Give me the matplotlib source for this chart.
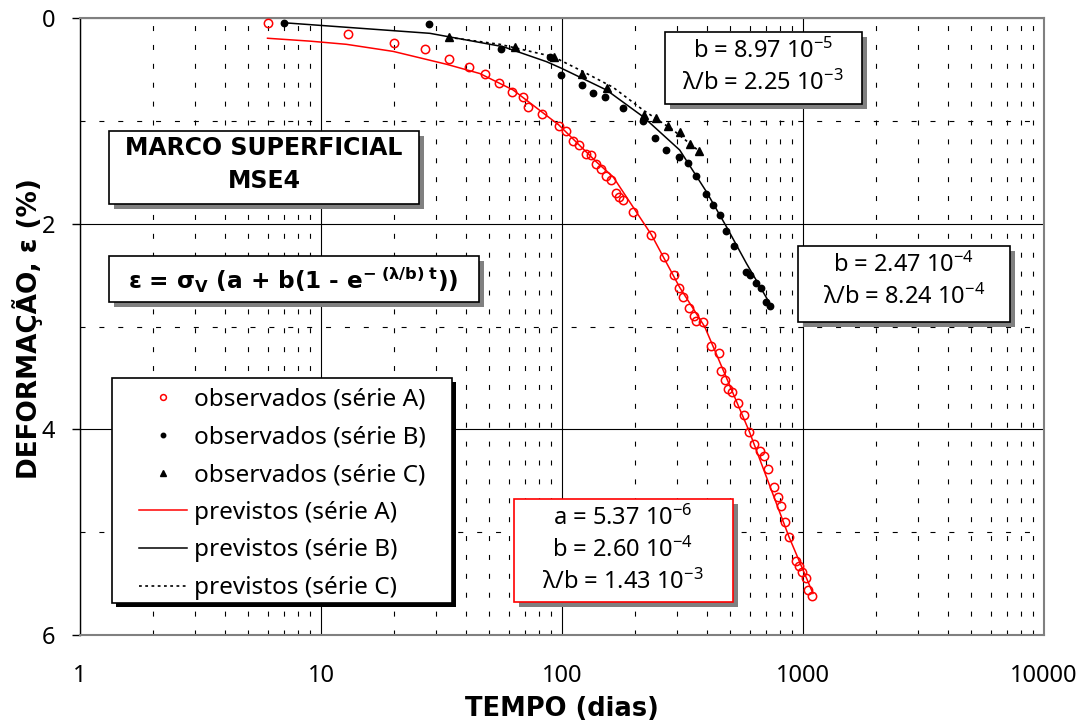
import matplotlib
matplotlib.use('Agg')
import matplotlib.pyplot as plt
from matplotlib.patches import Rectangle
from matplotlib.ticker import LogLocator, FixedLocator, NullFormatter

plt.rcParams['font.family'] = ['Noto Sans', 'DejaVu Sans']
plt.rcParams['mathtext.default'] = 'regular'
plt.rcParams['lines.scale_dashes'] = False

BOLD_FAMILY = 'DejaVu Sans'

# ---------------- data ----------------
obs_a_t = [6.0, 13, 20, 27, 34, 41, 48, 55, 62, 69, 72.6, 82.7, 97, 104, 110.6, 117.8,
           125.3, 131.7, 139, 145.8, 152.9, 159.8, 167.7, 173.2, 179.9, 196.2, 234.2,
           265.2, 292.8, 307.1, 319.1, 335.7, 353.8, 361.3, 383.7, 414.2, 448.3, 457,
           476.6, 490.5, 509.6, 537.6, 571.4, 599.4, 628.6, 661.3, 688.9, 718.6, 758,
           787.5, 813.5, 839.6, 874.8, 932.6, 959.8, 994.3, 1033, 1053, 1090]
obs_a_e = [0.05, 0.16, 0.24, 0.30, 0.40, 0.48, 0.545, 0.635, 0.723, 0.771, 0.864, 0.934,
           1.051, 1.097, 1.194, 1.231, 1.320, 1.336, 1.420, 1.464, 1.532, 1.578, 1.705,
           1.741, 1.774, 1.890, 2.108, 2.320, 2.495, 2.622, 2.714, 2.818, 2.894, 2.947,
           2.954, 3.188, 3.262, 3.437, 3.521, 3.606, 3.638, 3.742, 3.865, 4.024, 4.144,
           4.209, 4.264, 4.390, 4.562, 4.657, 4.747, 4.903, 5.046, 5.285, 5.328, 5.392,
           5.450, 5.564, 5.616]

obs_b_t = [7.0, 28.0, 56.0, 89.0, 99.3, 121.2, 134.6, 150.5, 179.3, 215.8, 242.7, 271.3,
           306.0, 333.4, 361.3, 394.9, 423.3, 454.5, 481.3, 517.4, 578.5, 605.1, 640.8,
           672.1, 705.0, 732.4]
obs_b_e = [0.052, 0.061, 0.304, 0.379, 0.557, 0.652, 0.730, 0.771, 0.873, 0.999, 1.164,
           1.284, 1.349, 1.408, 1.537, 1.715, 1.819, 1.916, 2.069, 2.215, 2.468, 2.500,
           2.575, 2.629, 2.760, 2.802]

obs_c_t = [33.9, 64.1, 92.5, 120.5, 154.4, 218.5, 244.9, 276.6, 310.1, 341.2, 370.5]
obs_c_e = [0.188, 0.285, 0.382, 0.545, 0.684, 0.944, 0.976, 1.051, 1.109, 1.229, 1.291]

prev_a_t = [6.0, 9.0, 12.75, 19.95, 33.2, 45.6, 62.7, 97.0, 139.0, 162.9, 235.0, 307.9,
            391.1, 599.4, 874.8, 1100]
prev_a_e = [0.197, 0.225, 0.256, 0.325, 0.450, 0.540, 0.700, 1.040, 1.400, 1.544, 2.108,
            2.620, 3.003, 4.024, 5.046, 5.596]

prev_b_t = [7.0, 28.3, 57.0, 86.3, 99.5, 152.9, 217.0, 307.9, 397.5, 481.3, 582.4, 727.6]
prev_b_e = [0.046, 0.149, 0.279, 0.425, 0.489, 0.700, 0.960, 1.284, 1.690, 2.030, 2.386,
            2.775]

prev_c_t = [33.9, 55.2, 91.9, 122.4, 162.9, 217.0, 288.9, 372.9]
prev_c_e = [0.188, 0.256, 0.376, 0.522, 0.674, 0.895, 1.089, 1.300]

x_ticks = [1, 10, 100, 1000, 10000]
x_tick_labels = ['1', '10', '100', '1000', '10000']
y_ticks = [0, 2, 4, 6]
y_tick_labels = ['0', '2', '4', '6']

legend_labels = ['observados (série A)', 'observados (série B)', 'observados (série C)',
                 'previstos (série A)', 'previstos (série B)', 'previstos (série C)']

# ---------------- figure ----------------
W, H = 1092, 727
fig = plt.figure(figsize=(W / 100, H / 100), dpi=100)
ax = fig.add_axes([80 / W, 1 - 635 / H, 964 / W, 617 / H])

ax.set_xscale('log')
ax.set_xlim(1, 10000)
ax.set_ylim(6, 0)

ax.set_xticks(x_ticks, x_tick_labels)
ax.xaxis.set_minor_locator(LogLocator(base=10, subs=range(2, 10), numticks=50))
ax.xaxis.set_minor_formatter(NullFormatter())
ax.set_yticks(y_ticks, y_tick_labels)
ax.yaxis.set_minor_locator(FixedLocator([1, 3, 5]))

ax.tick_params(axis='x', which='major', length=0, pad=21, labelsize=17)
ax.tick_params(axis='y', which='major', length=5.8, width=1, direction='out',
               pad=12, labelsize=17)
ax.tick_params(which='minor', length=0)

ax.set_axisbelow(True)
ax.grid(which='major', color='black', lw=0.8, ls='-')
ax.grid(which='minor', color='black', lw=0.8, ls=(0, (3.6, 10)))

for s in ['top', 'right', 'bottom']:
    ax.spines[s].set_color('#808080')
    ax.spines[s].set_linewidth(1.5)
ax.spines['left'].set_color('black')
ax.spines['left'].set_linewidth(1.0)

la, = ax.plot(prev_a_t, prev_a_e, color='red', lw=1.1, zorder=3)
lb, = ax.plot(prev_b_t, prev_b_e, color='black', lw=1.1, zorder=3)
lc, = ax.plot(prev_c_t, prev_c_e, color='black', lw=1.2, ls=(0, (2, 2.5)), zorder=3)
pa, = ax.plot(obs_a_t, obs_a_e, ls='none', marker='o', ms=6.0, mfc='none', mec='red',
              mew=1.1, zorder=4)
pb, = ax.plot(obs_b_t, obs_b_e, ls='none', marker='o', ms=4.6, color='black', zorder=4)
pc, = ax.plot(obs_c_t, obs_c_e, ls='none', marker='^', ms=6.0, color='black', zorder=4)

ax.set_xlabel('TEMPO (dias)', fontweight='bold', fontsize=18.5, family=BOLD_FAMILY)
ax.xaxis.label.set_va('center')
ax.xaxis.set_label_coords(0.5, (635 - 709) / 617)
ax.set_ylabel('DEFORMAÇÃO, ε (%)', fontweight='bold', fontsize=18.9, family=BOLD_FAMILY)
ax.yaxis.label.set_va('center')
ax.yaxis.set_label_coords((28 - 80) / 964, (635 - 329) / 617)


# ---------------- annotation boxes ----------------
def box(x0, y0, x1, y1, edge='black', shadow='#808080', off=5, lw=1.2):
    fig.add_artist(Rectangle(((x0 + off) / W, 1 - (y1 + off) / H), (x1 - x0) / W,
                             (y1 - y0) / H, transform=fig.transFigure, fc=shadow,
                             ec='none', zorder=4))
    fig.add_artist(Rectangle((x0 / W, 1 - y1 / H), (x1 - x0) / W, (y1 - y0) / H,
                             transform=fig.transFigure, fc='white', ec=edge, lw=lw,
                             zorder=5))


def ftext(x, y, s, **kw):
    fig.text(x / W, 1 - y / H, s, ha='center', va='center', zorder=6, **kw)


box(109, 131, 419, 204)
ftext(264, 148, 'MARCO SUPERFICIAL', fontsize=17, fontweight='bold', family=BOLD_FAMILY)
ftext(264, 181, 'MSE4', fontsize=17, fontweight='bold', family=BOLD_FAMILY)

box(109, 256, 479, 302)
ftext(293, 280, 'ε = σ$_V$ (a + b(1 - e$^{-\\ (λ/b)\\ t}$))', fontsize=16.7,
      fontweight='bold', family=BOLD_FAMILY)

box(665, 32, 862, 104)
ftext(763, 51, 'b = 8.97 10$^{-5}$', fontsize=17)
ftext(763, 83, 'λ/b = 2.25 10$^{-3}$', fontsize=17)

box(798, 246, 1010, 322)
ftext(904, 265, 'b = 2.47 10$^{-4}$', fontsize=17)
ftext(904, 297, 'λ/b = 8.24 10$^{-4}$', fontsize=17)

box(514, 499, 733, 602, edge='red')
ftext(623, 518, 'a = 5.37 10$^{-6}$', fontsize=17)
ftext(623, 550, 'b = 2.60 10$^{-4}$', fontsize=17)
ftext(623, 582, 'λ/b = 1.43 10$^{-3}$', fontsize=17)

# legend
box(112, 378, 452, 603, shadow='black', off=4)
leg = fig.legend([pa, pb, pc, la, lb, lc], legend_labels, loc='center',
                 bbox_to_anchor=(282 / W, 1 - 494 / H), bbox_transform=fig.transFigure,
                 frameon=False, fontsize=17.5, handlelength=2.0, handletextpad=0.27,
                 labelspacing=0.56, markerscale=0.7, borderpad=0.2)
leg.set_zorder(7)

fig.savefig('out.png', dpi=100)
